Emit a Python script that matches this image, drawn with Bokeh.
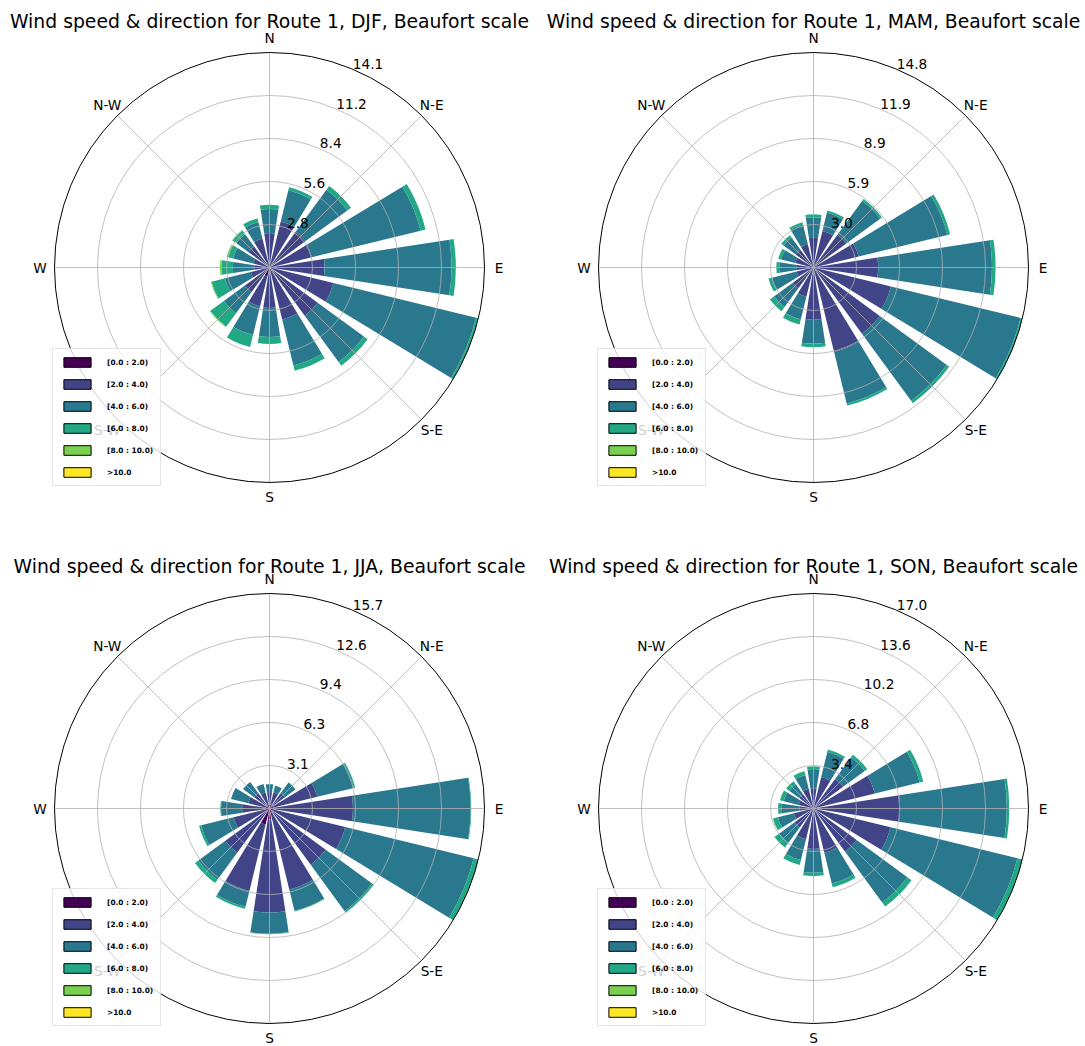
import numpy as np
from bokeh.plotting import figure
from bokeh.layouts import column, row
from bokeh.models import Range1d, Legend, LegendItem, Label, ColumnDataSource
from bokeh.core.properties import value
from bokeh.embed import file_html
from bokeh.resources import INLINE

# ---------------- data ----------------
directions = ["N", "NNE", "NE", "ENE", "E", "ESE", "SE", "SSE",
              "S", "SSW", "SW", "WSW", "W", "WNW", "NW", "NNW"]
direction_deg = [0, 22.5, 45, 67.5, 90, 112.5, 135, 157.5,
                 180, 202.5, 225, 247.5, 270, 292.5, 315, 337.5]
compass_labels = ["N", "N-E", "E", "S-E", "S", "S-W", "W", "N-W"]
compass_deg = [0, 45, 90, 135, 180, 225, 270, 315]
speed_bins = ["[0.0 : 2.0)", "[2.0 : 4.0)", "[4.0 : 6.0)",
              "[6.0 : 8.0)", "[8.0 : 10.0)", ">10.0"]
bin_colors = ["#440154", "#414487", "#2a788e", "#22a884", "#7ad151", "#fde725"]

# frequencies (%) per direction, one list per speed bin
djf_0_2 = [0.1, 0.1, 0.1, 0.1, 0.1, 0.1, 0.1, 0.1, 0.15, 0.6, 0.15, 0.1, 0.1, 0.1, 0.1, 0.1]
djf_2_4 = [2.15, 3.0, 2.8, 2.75, 3.5, 4.2, 3.8, 3.4, 2.5, 2.0, 1.85, 1.15, 0.9, 1.0, 1.6, 1.85]
djf_4_6 = [1.58, 2.1, 3.4, 7.32, 8.3, 9.6, 3.75, 3.1, 1.9, 1.95, 1.7, 1.75, 1.4, 1.35, 1.0, 1.1]
djf_6_8 = [0.27, 0.2, 0.3, 0.33, 0.28, 0.155, 0.3, 0.35, 0.45, 0.8, 1.1, 0.9, 0.75, 0.35, 0.3, 0.25]
djf_8_10 = [0, 0, 0, 0, 0, 0, 0, 0, 0, 0, 0.05, 0.05, 0.1, 0.1, 0.03, 0]
djf_10 = [0] * 16

mam_0_2 = [0.1, 0.1, 0.1, 0.1, 0.1, 0.1, 0.1, 0.1, 0.15, 0.1, 0.1, 0.1, 0.1, 0.1, 0.1, 0.1]
mam_2_4 = [1.95, 2.5, 2.7, 3.1, 4.37, 5.4, 5.56, 5.9, 3.45, 1.97, 1.67, 1.1, 1.05, 1.2, 1.4, 1.56]
mam_4_6 = [1.42, 1.3, 2.9, 6.3, 7.84, 9.2, 5.74, 3.65, 1.65, 1.63, 1.61, 1.75, 1.22, 1.0, 1.06, 1.4]
mam_6_8 = [0.2, 0.15, 0.15, 0.2, 0.25, 0.13, 0.2, 0.15, 0.25, 0.35, 0.35, 0.25, 0.2, 0.2, 0.2, 0.15]
mam_8_10 = [0] * 16
mam_10 = [0] * 16

jja_0_2 = [0.3, 0.3, 0.3, 0.3, 0.3, 0.3, 0.3, 0.3, 0.8, 1.2, 0.3, 0.3, 0.3, 0.3, 0.3, 0.3]
jja_2_4 = [0.9, 0.9, 1.1, 3.3, 5.8, 5.4, 4.8, 5.8, 6.8, 5.0, 3.7, 2.4, 1.7, 1.3, 1.1, 0.9]
jja_4_6 = [0.58, 0.52, 0.95, 2.75, 8.6, 9.67, 4.2, 1.6, 1.55, 1.2, 2.45, 2.45, 1.55, 1.3, 1.0, 0.65]
jja_6_8 = [0.02, 0.02, 0.02, 0.1, 0.05, 0.35, 0.15, 0.05, 0.05, 0.15, 0.3, 0.15, 0.05, 0, 0, 0]
jja_8_10 = [0] * 16
jja_10 = [0] * 16

son_0_2 = [0.15] * 16
son_2_4 = [1.45, 2.42, 2.75, 4.85, 6.7, 6.12, 4.08, 3.45, 3.05, 2.35, 1.7, 1.45, 0.97, 1.05, 1.25, 1.45]
son_4_6 = [1.53, 2.03, 2.12, 3.64, 8.44, 10.33, 4.97, 2.5, 1.88, 1.7, 1.53, 1.3, 1.39, 1.23, 0.98, 1.13]
son_6_8 = [0.22, 0.2, 0.25, 0.3, 0.19, 0.4, 0.4, 0.3, 0.27, 0.4, 0.45, 0.4, 0.3, 0.3, 0.3, 0.3]
son_8_10 = [0] * 16
son_10 = [0] * 16

FONT_NAME = "DejaVu Sans"
FONT = value(FONT_NAME)
R_PX = 215.0          # pixel radius of the outer circle
HALF_WIDTH = 8.8      # half opening of a bar, degrees
LABEL_PAD = 14.5      # pixels between outer circle and compass label centre


def make_rose(title, bins, W, H, cx, cy, leg_x, leg_y, title_y):
    table = np.array(bins, dtype=float)
    totals = table.sum(axis=0)
    rmax = float(totals.max())
    k = R_PX / rmax
    p = figure(width=W, height=H, output_backend="svg", toolbar_location=None,
               x_axis_type=None, y_axis_type=None, min_border=0,
               x_range=Range1d(-cx / k, (W - cx) / k),
               y_range=Range1d(-(H - cy) / k, cy / k))
    p.outline_line_color = None
    p.background_fill_color = "white"

    theta = np.deg2rad(90.0 - np.array(direction_deg))
    half = np.deg2rad(HALF_WIDTH)
    base = np.zeros(len(directions))
    for i, vals in enumerate(table):
        src = ColumnDataSource(dict(
            x=np.zeros(len(directions)), y=np.zeros(len(directions)),
            inner=base.copy(), outer=base + vals,
            start=theta - half, end=theta + half))
        p.annular_wedge(x="x", y="y", inner_radius="inner", outer_radius="outer",
                        start_angle="start", end_angle="end", source=src,
                        fill_color=bin_colors[i], line_color=None)
        base = base + vals

    # grid rings and spokes
    radii = [rmax * j / 5 for j in range(1, 5)]
    p.circle(x=[0] * 4, y=[0] * 4, radius=radii, fill_color=None,
             line_color="#b0b0b0", line_width=0.8)
    ca = np.deg2rad(90.0 - np.array(compass_deg))
    p.segment(x0=[0] * 8, y0=[0] * 8, x1=list(rmax * np.cos(ca)), y1=list(rmax * np.sin(ca)),
              line_color="#b0b0b0", line_width=0.8)
    p.circle(x=[0], y=[0], radius=[rmax], fill_color=None,
             line_color="black", line_width=1)

    # radial labels
    ra = np.deg2rad(67.5)
    rr = [rmax * j / 5 for j in range(1, 6)]
    p.text(x=[r * np.cos(ra) for r in rr], y=[r * np.sin(ra) for r in rr],
           text=[f"{r:.1f}" for r in rr], text_align="left", text_baseline="bottom",
           x_offset=1, text_font=FONT, text_font_size="13.7px", text_color="black")

    # compass labels
    lr = rmax + LABEL_PAD / k
    p.text(x=list(lr * np.cos(ca)), y=list(lr * np.sin(ca)),
           text=compass_labels, text_align="center", text_baseline="middle",
           text_font=FONT, text_font_size="13.7px", text_color="black")

    # title
    p.add_layout(Label(x=cx, y=H - title_y, x_units="screen", y_units="screen",
                       text=title, text_align="center", text_baseline="middle",
                       text_font=FONT_NAME, text_font_size="18.8px", text_color="black"))

    # legend (swatches with black edge); the swatch renderers hold no visible mark
    items = []
    for i, lab in enumerate(speed_bins):
        r = p.quad(left=[np.nan], right=[np.nan], bottom=[np.nan], top=[np.nan],
                   fill_color=bin_colors[i], line_color="black", line_width=1)
        items.append(LegendItem(label=lab, renderers=[r]))
    leg = Legend(items=items, location=(leg_x, leg_y), padding=7, spacing=10,
                 glyph_width=34, glyph_height=12, label_height=12, label_standoff=13,
                 label_text_font=FONT_NAME, label_text_font_size="7.4px",
                 label_text_font_style="bold", label_text_color="black",
                 border_line_color="#cccccc",
                 border_line_width=1, background_fill_color="white",
                 background_fill_alpha=0.8, margin=0)
    p.add_layout(leg)
    return p


H1, H2 = 545, 500
p1 = make_rose("Wind speed & direction for Route 1, DJF, Beaufort scale",
               [djf_0_2, djf_2_4, djf_4_6, djf_6_8, djf_8_10, djf_10],
               543, H1, 269, 267, 52, 59, 21)
p2 = make_rose("Wind speed & direction for Route 1, MAM, Beaufort scale",
               [mam_0_2, mam_2_4, mam_4_6, mam_6_8, mam_8_10, mam_10],
               542, H1, 270, 267, 54, 59, 21)
p3 = make_rose("Wind speed & direction for Route 1, JJA, Beaufort scale",
               [jja_0_2, jja_2_4, jja_4_6, jja_6_8, jja_8_10, jja_10],
               543, H2, 269, 263, 52, 19, 21)
p4 = make_rose("Wind speed & direction for Route 1, SON, Beaufort scale",
               [son_0_2, son_2_4, son_4_6, son_6_8, son_8_10, son_10],
               542, H2, 270, 263, 54, 19, 21)

layout = column(row(p1, p2), row(p3, p4))
open("out.html", "w").write(file_html(layout, INLINE))
